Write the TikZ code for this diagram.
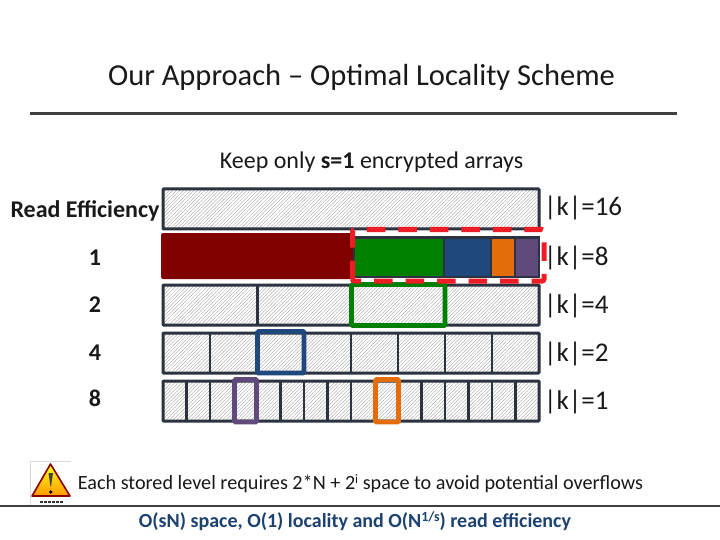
\documentclass[tikz,border=0pt]{standalone}
\usepackage{fontspec}
\setmainfont{Carlito}
\usetikzlibrary{patterns.meta,shapes.geometric}
\definecolor{barline}{HTML}{2B3340}
\definecolor{rulegray}{HTML}{404040}
\definecolor{dred}{HTML}{800000}
\definecolor{dgreen}{HTML}{008000}
\definecolor{dblue}{HTML}{1F497D}
\definecolor{dorange}{HTML}{E46C0A}
\definecolor{dpurple}{HTML}{604A7B}
\definecolor{mred}{HTML}{EE1C25}
\tikzset{
  hatched/.style={pattern={Lines[angle=45,distance=2.5pt,line width=.35pt]},pattern color=black!38},
  barbox/.style={draw=barline,line width=3pt,rounded corners=.8pt,hatched},
  divider/.style={draw=barline,line width=2.8pt},
  solidcell/.style={draw=barline,line width=2.8pt},
  hilite/.style={line width=4.6pt,rounded corners=1pt},
  lab/.style={font=\bfseries\fontsize{24}{26}\selectfont,text=black!90,inner sep=0pt,anchor=center},
  klab/.style={font=\fontsize{27}{28}\selectfont,text=black!90,inner sep=0pt,anchor=west},
}
\begin{document}
\begin{tikzpicture}[x=1pt,y=-1pt]
\useasboundingbox (0,0) rectangle (720,540);
\fill[white] (0,0) rectangle (720,540);
% title and rules
\node[inner sep=0pt,font=\fontsize{30.5}{33}\selectfont,text=black!90] (title) at (361.5,77) {Our Approach – Optimal Locality Scheme};
\coordinate (ruleAl) at (30,114); \coordinate (ruleAr) at (677,114);
\draw[rulegray,line width=3pt] (ruleAl) -- (ruleAr);
\coordinate (ruleBl) at (0,505.5); \coordinate (ruleBr) at (720,505.5);
\draw[rulegray,line width=2pt] (ruleBl) -- (ruleBr);
\node[inner sep=0pt,font=\fontsize{24}{26}\selectfont,text=black!90] (keep) at (371.5,162) {Keep only \textbf{s=1} encrypted arrays};
\node[inner sep=0pt,font=\bfseries\fontsize{24}{26}\selectfont,text=black!90] (read) at (85,211) {Read Efficiency};
% row 1
\draw[barbox] (163,189) rectangle (539,229);
% row 2
\fill[dred,rounded corners=1.5pt] (161,233) rectangle (354,279);
\draw[solidcell,fill=dgreen] (354,237.5) rectangle (444,277);
\draw[solidcell,fill=dblue] (444,237.5) rectangle (491,277);
\draw[solidcell,fill=dorange] (491,237.5) rectangle (515,277);
\draw[solidcell,fill=dpurple] (515,237.5) rectangle (539,277);
% row 3
\draw[barbox] (163,285) rectangle (539,325);
\draw[divider] (257.5,285) -- (257.5,325);
% row 4
\draw[barbox] (163,333) rectangle (539,373);
\foreach \i in {1,...,7}{\draw[divider] ({163+47*\i},333) -- ({163+47*\i},373);}
% row 5
\draw[barbox] (163,381) rectangle (539,421);
\foreach \i in {1,...,15}{\draw[divider] ({163+23.5*\i},381) -- ({163+23.5*\i},421);}
% highlights
\draw[hilite,draw=dgreen] (351.5,284.5) rectangle (445,325.5);
\draw[hilite,draw=dblue] (257.5,331.5) rectangle (304,373);
\draw[hilite,draw=dpurple] (234.5,379.5) rectangle (256.5,422);
\draw[hilite,draw=dorange] (375.5,379.5) rectangle (398.5,422);
\draw[draw=mred,line width=5pt,dash pattern=on 18.5pt off 13pt,rounded corners=2pt] (352.5,281) -- (352.5,229.5) -- (544,229.5) -- (544,281) -- cycle;
% labels
\node[lab] (l1) at (95,258) {1};
\node[lab] (l2) at (95,305) {2};
\node[lab] (l4) at (95,353) {4};
\node[lab] (l8) at (95,398) {8};
\node[klab] (k16) at (544,208) {|k|=16};
\node[klab] (k8) at (544,258) {|k|=8};
\node[klab] (k4) at (544,306) {|k|=4};
\node[klab] (k2) at (544,354) {|k|=2};
\node[klab] (k1) at (544,402) {|k|=1};
% warning icon
\draw[black!15,line width=.6pt] (30.5,505) -- (30.5,461.5) -- (71,461.5);
\draw[draw=red!55!black,line width=1.6pt,top color=yellow!90!white,bottom color=orange!80!yellow,line join=round] (50.5,464) -- (70,496) -- (32,496) -- cycle;
\fill[black!75] (48.5,473) -- (53,473) -- (51,486.5) -- (50.5,486.5) -- cycle;
\fill[black] (50.8,492) circle (1.9);
\draw[black!80,line width=2pt,dash pattern=on 3pt off 1pt] (40,501.5) -- (64,501.5);
% notes
\node[inner sep=0pt,font=\fontsize{20.2}{24}\selectfont,text=black!90] (note) at (360.5,483.5) {Each stored level requires 2*N + 2\raisebox{.55ex}{\fontsize{13}{14}\selectfont i} space to avoid potential overflows};
\node[inner sep=0pt,font=\bfseries\fontsize{20}{25}\selectfont,text=dblue!90!black] (summary) at (355,521) {O(sN) space, O(1) locality and O(N\raisebox{.55ex}{\fontsize{14}{15}\selectfont 1/s}) read efficiency};
\end{tikzpicture}
\end{document}
